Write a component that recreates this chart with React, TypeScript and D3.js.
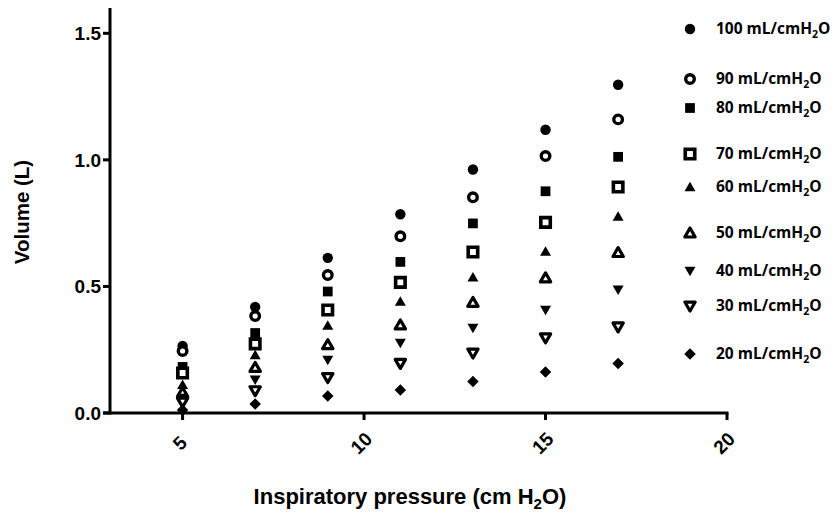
import React from "react";
import * as d3 from "d3";

// Inspiratory pressure settings (cm H2O)
const pressures = [5, 7, 9, 11, 13, 15, 17];

// Delivered volume (L) at each pressure, one array per compliance level
const vol100 = [0.265, 0.419, 0.613, 0.785, 0.962, 1.119, 1.297];
const vol90 = [0.245, 0.383, 0.545, 0.698, 0.852, 1.015, 1.16];
const vol80 = [0.182, 0.316, 0.48, 0.597, 0.749, 0.876, 1.012];
const vol70 = [0.158, 0.273, 0.407, 0.516, 0.636, 0.753, 0.893];
const vol60 = [0.111, 0.229, 0.345, 0.44, 0.536, 0.638, 0.776];
const vol50 = [0.081, 0.18, 0.27, 0.348, 0.437, 0.534, 0.634];
const vol40 = [0.06, 0.132, 0.21, 0.277, 0.336, 0.407, 0.487];
const vol30 = [0.043, 0.088, 0.14, 0.196, 0.237, 0.297, 0.34];
const vol20 = [0.012, 0.036, 0.067, 0.091, 0.124, 0.162, 0.196];

const complianceLabels = ["100", "90", "80", "70", "60", "50", "40", "30", "20"];
const seriesValues = [vol100, vol90, vol80, vol70, vol60, vol50, vol40, vol30, vol20];

const xTicks = [5, 10, 15, 20];
const yTicks = [0, 0.5, 1.0, 1.5];

type MarkerKind =
  | "circle" | "circleOpen" | "square" | "squareOpen"
  | "triUp" | "triUpOpen" | "triDown" | "triDownOpen" | "diamond";

const markerKinds: MarkerKind[] = [
  "circle", "circleOpen", "square", "squareOpen",
  "triUp", "triUpOpen", "triDown", "triDownOpen", "diamond",
];

// legend row centres
const legendY = [29, 79, 108, 154, 187, 233, 271, 306, 354];

const W = 839;
const H = 515;
const left = 110;
const right = 727;
const top = 8;
const bottom = 413;

const x = d3.scaleLinear().domain([3, 20]).range([left, right]);
const y = d3.scaleLinear().domain([0, 1.6]).range([bottom, top]);

const symCircle = d3.symbol().type(d3.symbolCircle);
const symSquare = d3.symbol().type(d3.symbolSquare);
const symTri = d3.symbol().type(d3.symbolTriangle);

function Marker({ kind, cx, cy }: { kind: MarkerKind; cx: number; cy: number }) {
  const t = `translate(${cx},${cy})`;
  switch (kind) {
    case "circle":
      return <path transform={t} d={symCircle.size(85)() as string} fill="#000" />;
    case "circleOpen":
      return <path transform={t} d={symCircle.size(58)() as string} fill="#fff" stroke="#000" strokeWidth={3.4} />;
    case "square":
      return <path transform={t} d={symSquare.size(95)() as string} fill="#000" />;
    case "squareOpen":
      return <path transform={t} d={symSquare.size(90)() as string} fill="#fff" stroke="#000" strokeWidth={3.6} />;
    case "triUp":
      return <path transform={`${t} translate(0,1)`} d={symTri.size(52)() as string} fill="#000" />;
    case "triUpOpen":
      return <path transform={`${t} translate(0,1)`} d={symTri.size(46)() as string} fill="#fff" stroke="#000" strokeWidth={3.2} strokeLinejoin="round" />;
    case "triDown":
      return <path transform={`${t} rotate(180) translate(0,1)`} d={symTri.size(52)() as string} fill="#000" />;
    case "triDownOpen":
      return <path transform={`${t} rotate(180) translate(0,1)`} d={symTri.size(46)() as string} fill="#fff" stroke="#000" strokeWidth={3.2} strokeLinejoin="round" />;
    case "diamond":
      return <path transform={`${t} rotate(45)`} d={symSquare.size(66)() as string} fill="#000" />;
  }
}

export default function App() {
  const axisFont = "'Liberation Sans', Arial, sans-serif";
  const legendFont = "'Open Sans', 'Noto Sans', sans-serif";
  return (
    <svg width={W} height={H} style={{ position: "absolute", left: 0, top: 0, background: "#fff" }}>
      <rect width={W} height={H} fill="#fff" />

      {/* data points */}
      {seriesValues.map((vals, si) =>
        vals.map((v, i) => (
          <Marker key={`${si}-${i}`} kind={markerKinds[si]} cx={x(pressures[i])} cy={y(v)} />
        ))
      )}

      {/* y axis */}
      <line x1={left} x2={left} y1={top} y2={bottom + 1.5} stroke="#000" strokeWidth={3} />
      {yTicks.map((t) => (
        <g key={`yt${t}`}>
          <line x1={left - 7} x2={left} y1={y(t)} y2={y(t)} stroke="#000" strokeWidth={3} />
          <text x={left - 9} y={y(t)} dy="0.36em" textAnchor="end" fontFamily={axisFont} fontWeight="bold" fontSize={19} fill="#000">
            {d3.format(".1f")(t)}
          </text>
        </g>
      ))}

      {/* x axis */}
      <line x1={left - 7} x2={right + 1.5} y1={bottom} y2={bottom} stroke="#000" strokeWidth={3} />
      {xTicks.map((t) => (
        <g key={`xt${t}`}>
          <line x1={x(t)} x2={x(t)} y1={bottom} y2={bottom + 7} stroke="#000" strokeWidth={3} />
          <text
            transform={`translate(${x(t) - 3},${bottom + 30}) rotate(-45)`}
            textAnchor="middle"
            dy="0.36em"
            fontFamily={axisFont}
            fontWeight="bold"
            fontSize={19}
            fill="#000"
          >
            {t}
          </text>
        </g>
      ))}

      {/* axis titles */}
      <text
        transform={`translate(29,${(157 + 267) / 2}) rotate(-90)`}
        textAnchor="middle"
        fontFamily={axisFont}
        fontWeight="bold"
        fontSize={20.5}
        fill="#000"
      >
        Volume (L)
      </text>
      <text x={410} y={504} textAnchor="middle" fontFamily={axisFont} fontWeight="bold" fontSize={22} fill="#000">
        Inspiratory pressure (cm H
        <tspan fontSize={15} dy={5}>2</tspan>
        <tspan dy={-5}>O)</tspan>
      </text>

      {/* legend */}
      {complianceLabels.map((lab, i) => (
        <g key={`lg${lab}`}>
          <Marker kind={markerKinds[i]} cx={690} cy={legendY[i]} />
          <text x={716} y={legendY[i]} dy="0.35em" fontFamily={legendFont} fontWeight="bold" fontSize={15.5} fill="#000">
            {lab} mL/cmH
            <tspan fontSize={10.5} dy={4}>2</tspan>
            <tspan dy={-4}>O</tspan>
          </text>
        </g>
      ))}
    </svg>
  );
}
